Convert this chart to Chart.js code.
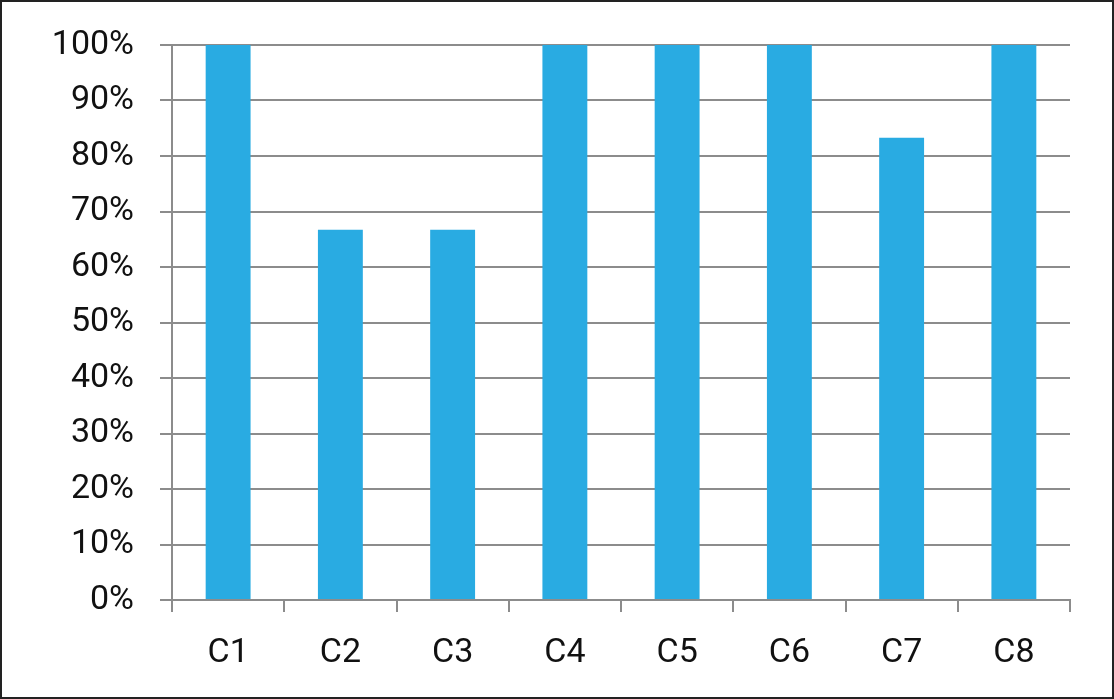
<!DOCTYPE html>
<html>
<head>
<meta charset="utf-8">
<script src="https://cdn.jsdelivr.net/npm/chart.js@4/dist/chart.umd.min.js"></script>
<style>
  html, body { margin: 0; padding: 0; background: #fff; }
  .frame { width: 1114px; height: 699px; box-sizing: border-box; border: 2px solid #222; }
  .frame canvas { display: block; }
</style>
</head>
<body>
<div class="frame"><canvas id="chart" width="1110" height="695"></canvas></div>
<script>
// ─── DATA ────────────────────────────────────────────────────
const categories = ['C1', 'C2', 'C3', 'C4', 'C5', 'C6', 'C7', 'C8'];
const shareValues = [100, 66.7, 66.7, 100, 100, 100, 83.3, 100];
const yTickMax = 100;
const yTickStep = 10;

const GRID = '#8c8c8c';
const FONT = { family: 'Roboto', size: 34 };

new Chart(document.getElementById('chart').getContext('2d'), {
  type: 'bar',
  data: {
    labels: categories,
    datasets: [{
      data: shareValues,
      backgroundColor: '#29abe2',
      borderWidth: 0,
      barPercentage: 0.4,
      categoryPercentage: 1
    }]
  },
  options: {
    responsive: false,
    animation: false,
    layout: { padding: { top: 0, right: 42, left: 0, bottom: 0 } },
    plugins: { legend: { display: false }, tooltip: { enabled: false } },
    scales: {
      x: {
        grid: { drawOnChartArea: false, color: GRID, lineWidth: 2, tickLength: 12, offset: true },
        border: { color: GRID, width: 2 },
        ticks: { color: '#111', font: FONT, padding: 21 },
        afterFit: s => { s.height = 97; }
      },
      y: {
        min: 0,
        max: yTickMax,
        grid: { color: GRID, lineWidth: 2, tickLength: 12 },
        border: { color: GRID, width: 2 },
        ticks: { stepSize: yTickStep, color: '#111', font: FONT, padding: 26, callback: v => v + '%' },
        afterFit: s => { s.width = 170; s.paddingTop = 43; }
      }
    }
  }
});
</script>
</body>
</html>
